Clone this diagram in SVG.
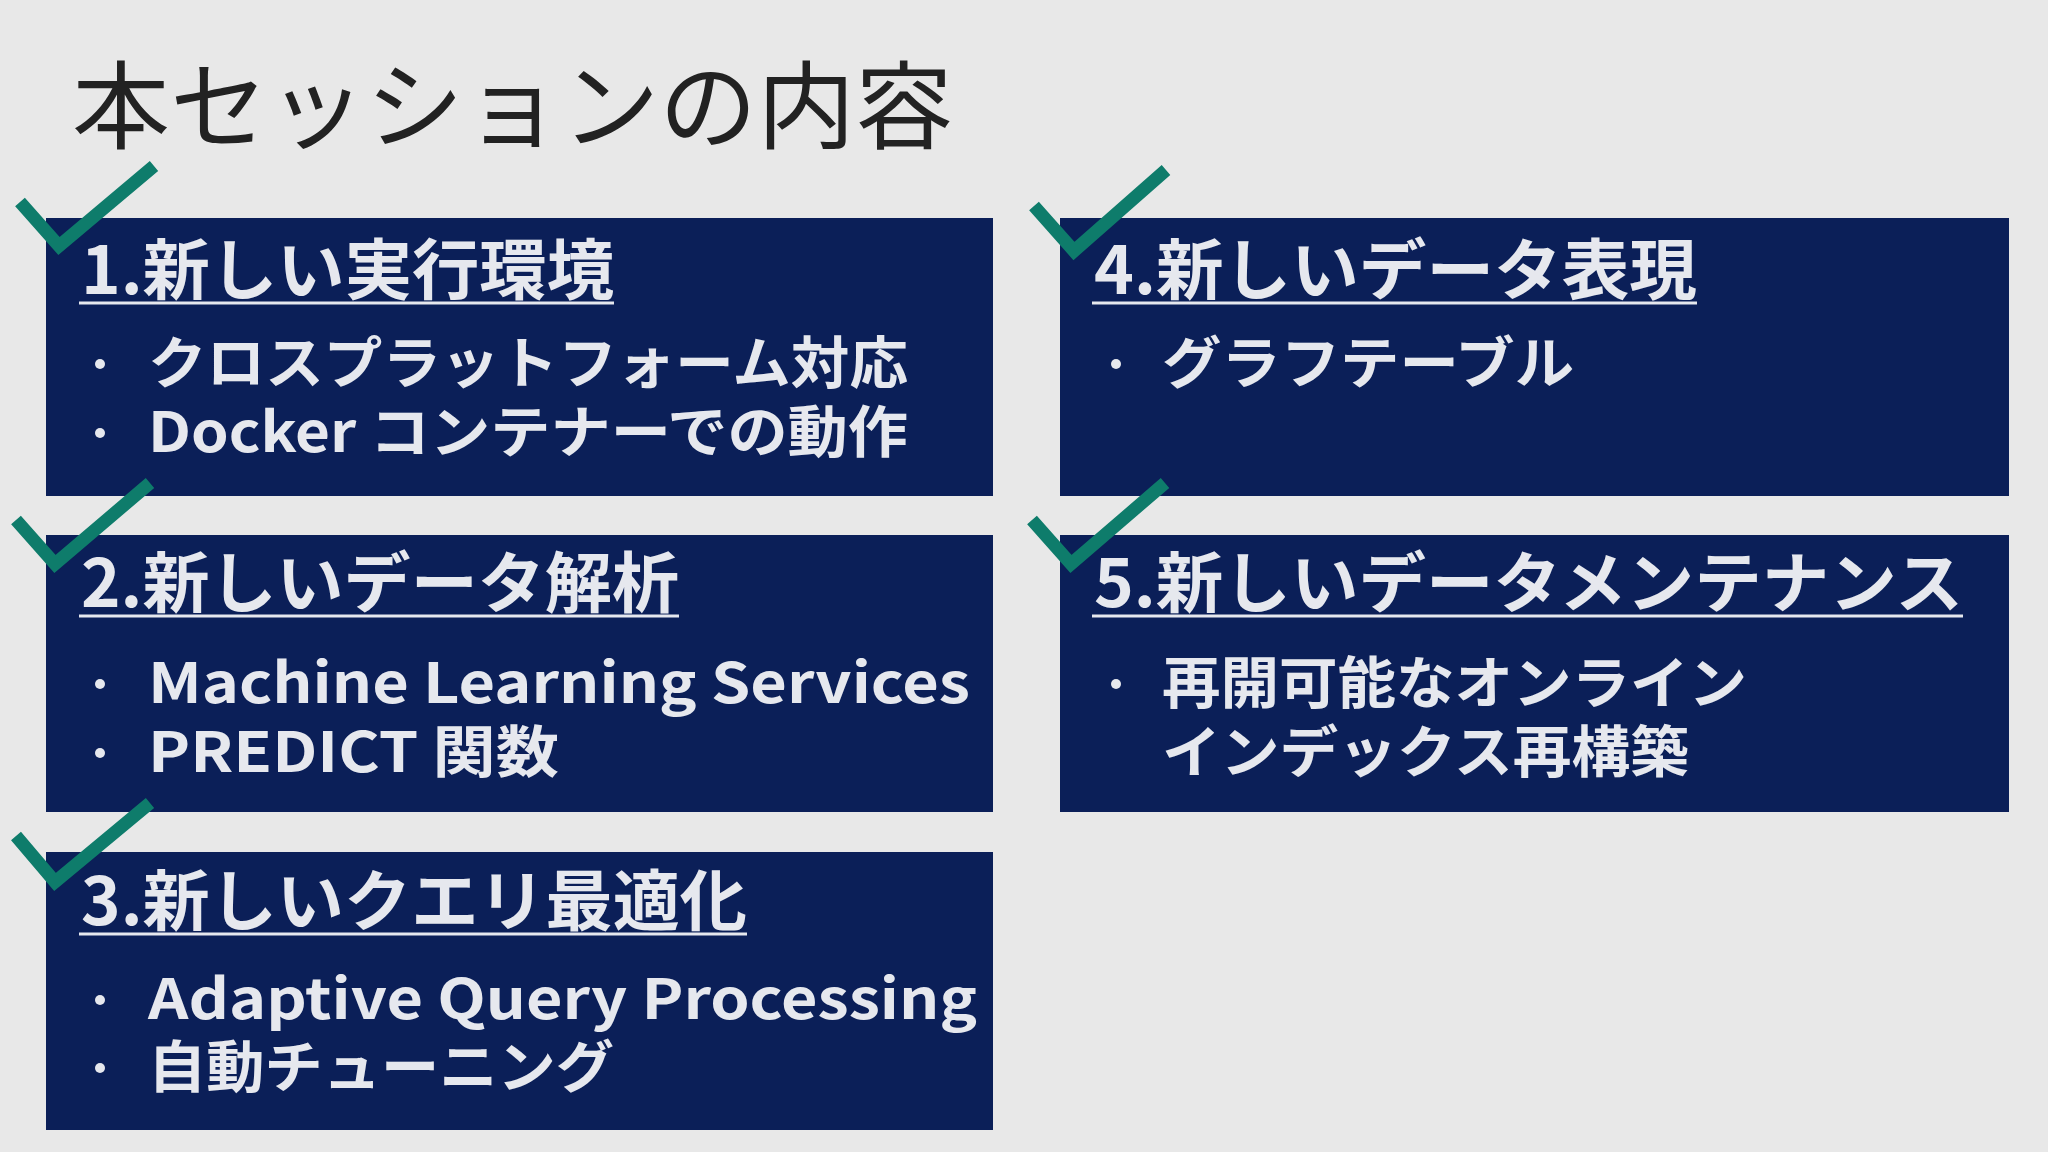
<svg xmlns="http://www.w3.org/2000/svg" width="2048" height="1152" viewBox="0 0 2048 1152">
<style>
.box{fill:#0b1f58}
.h{font-family:"Noto Sans CJK JP","Noto Sans",sans-serif;font-weight:700;font-size:66px;fill:#e6e8ee}
.b{font-family:"Noto Sans CJK JP","Noto Sans",sans-serif;font-weight:700;font-size:56px;fill:#e6e8ee}
.u{stroke:#e6e8ee;stroke-width:3}
.chk{fill:none;stroke:#0e7c6b;stroke-width:13;stroke-linecap:butt;stroke-linejoin:miter}
.dot{fill:#e6e8ee}
</style>
<rect width="2048" height="1152" fill="#e8e8e8"/>
<text x="72" y="141" font-family="Noto Sans CJK JP,sans-serif" font-size="96" fill="#222" textLength="881" lengthAdjust="spacingAndGlyphs">本セッションの内容</text>
<g id="node1">
<rect class="box" x="46" y="218" width="947" height="278"/>
<text class="h" x="81" y="294" textLength="533" lengthAdjust="spacingAndGlyphs">1.新しい実行環境</text>
<line class="u" x1="79" y1="303" x2="614" y2="303"/>
<circle class="dot" cx="100" cy="364" r="5"/>
<text class="b" x="148" y="383" textLength="760" lengthAdjust="spacingAndGlyphs">クロスプラットフォーム対応</text>
<circle class="dot" cx="100" cy="433" r="5"/>
<text class="b" x="148" y="452" textLength="760" lengthAdjust="spacingAndGlyphs">Docker コンテナーでの動作</text>
<polyline class="chk" points="20,202 59,246 154,166"/>
</g>
<g id="node2">
<rect class="box" x="46" y="535" width="947" height="277"/>
<text class="h" x="81" y="607" textLength="598" lengthAdjust="spacingAndGlyphs">2.新しいデータ解析</text>
<line class="u" x1="79" y1="616" x2="679" y2="616"/>
<circle class="dot" cx="100" cy="684" r="5"/>
<text class="b" x="148" y="703" textLength="822" lengthAdjust="spacingAndGlyphs">Machine Learning Services</text>
<circle class="dot" cx="100" cy="753" r="5"/>
<text class="b" x="148" y="772" textLength="411" lengthAdjust="spacingAndGlyphs">PREDICT 関数</text>
<polyline class="chk" points="16,520 55,564 150,483"/>
</g>
<g id="node3">
<rect class="box" x="46" y="852" width="947" height="278"/>
<text class="h" x="81" y="925" textLength="666" lengthAdjust="spacingAndGlyphs">3.新しいクエリ最適化</text>
<line class="u" x1="79" y1="934" x2="747" y2="934"/>
<circle class="dot" cx="100" cy="1000" r="5"/>
<text class="b" x="148" y="1019" textLength="829" lengthAdjust="spacingAndGlyphs">Adaptive Query Processing</text>
<circle class="dot" cx="100" cy="1068" r="5"/>
<text class="b" x="148" y="1087" textLength="466" lengthAdjust="spacingAndGlyphs">自動チューニング</text>
<polyline class="chk" points="16,836 55,882 150,803"/>
</g>
<g id="node4">
<rect class="box" x="1060" y="218" width="949" height="278"/>
<text class="h" x="1094" y="294" textLength="603" lengthAdjust="spacingAndGlyphs">4.新しいデータ表現</text>
<line class="u" x1="1092" y1="303" x2="1697" y2="303"/>
<circle class="dot" cx="1116" cy="364" r="5"/>
<text class="b" x="1162" y="383" textLength="412" lengthAdjust="spacingAndGlyphs">グラフテーブル</text>
<polyline class="chk" points="1034,206 1074,251 1166,170"/>
</g>
<g id="node5">
<rect class="box" x="1060" y="535" width="949" height="277"/>
<text class="h" x="1094" y="607" textLength="869" lengthAdjust="spacingAndGlyphs">5.新しいデータメンテナンス</text>
<line class="u" x1="1092" y1="616" x2="1963" y2="616"/>
<circle class="dot" cx="1116" cy="684" r="5"/>
<text class="b" x="1162" y="703" textLength="585" lengthAdjust="spacingAndGlyphs">再開可能なオンライン</text>
<text class="b" x="1162" y="772" textLength="527" lengthAdjust="spacingAndGlyphs">インデックス再構築</text>
<polyline class="chk" points="1032,520 1071,564 1165,483"/>
</g>
<g id="connectors"/>
</svg>
